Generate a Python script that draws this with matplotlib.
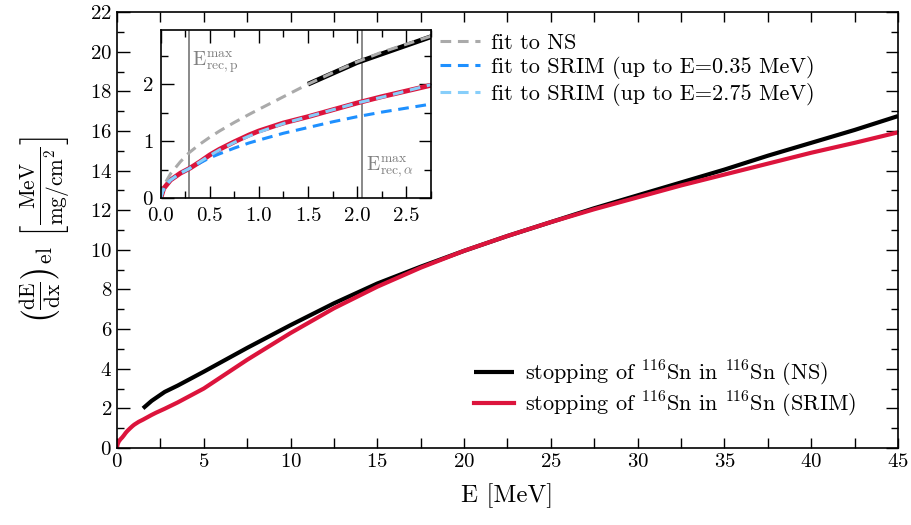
import matplotlib
matplotlib.use("Agg")
import matplotlib.pyplot as plt
from matplotlib.ticker import MultipleLocator, FormatStrFormatter

plt.rcParams['font.family'] = 'serif'
plt.rcParams['font.serif'] = ['cmr10']
plt.rcParams['mathtext.fontset'] = 'cm'
plt.rcParams['axes.formatter.use_mathtext'] = True
plt.rcParams['axes.unicode_minus'] = False

# stopping of 116Sn in 116Sn, main panel
e_ns = [1.5, 2.0, 2.75, 3.5, 5, 7.5, 10, 12.5, 15, 17.5, 20, 22.5, 25,
        27.5, 30, 32.5, 35, 37.5, 40, 42.5, 45]
s_ns = [2.00, 2.38, 2.83, 3.15, 3.85, 5.05, 6.20, 7.30, 8.30, 9.15, 9.95,
        10.70, 11.40, 12.10, 12.75, 13.40, 14.05, 14.75, 15.40, 16.05, 16.75]

e_srim = [0, 0.03, 0.1, 0.2, 0.3, 0.4, 0.5, 0.6, 0.75, 0.9, 1.0, 1.25, 1.5,
          1.75, 2.0, 2.25, 2.5, 2.75, 3.5, 5, 7.5, 10, 12.5, 15, 17.5, 20,
          22.5, 25, 27.5, 30, 32.5, 35, 37.5, 40, 42.5, 45]
s_srim = [0, 0.17, 0.32, 0.44, 0.53, 0.64, 0.76, 0.86, 0.99, 1.11, 1.18,
          1.32, 1.43, 1.55, 1.67, 1.78, 1.88, 1.98, 2.30, 3.00, 4.45, 5.80,
          7.05, 8.14, 9.10, 9.95, 10.70, 11.40, 12.05, 12.65, 13.25, 13.80,
          14.35, 14.90, 15.40, 15.93]

# fits shown in the inset
e_fit = [0, 0.02, 0.05, 0.1, 0.2, 0.29, 0.4, 0.5, 0.6, 0.75, 0.9, 1.0, 1.25,
         1.5, 1.75, 2.0, 2.25, 2.5, 2.75]
fit_ns = [0, 0.15, 0.28, 0.43, 0.64, 0.80, 0.95, 1.07, 1.18, 1.33, 1.47,
          1.56, 1.78, 2.00, 2.20, 2.39, 2.56, 2.70, 2.84]
fit_srim_035 = [0, 0.12, 0.22, 0.32, 0.44, 0.52, 0.62, 0.71, 0.78, 0.88,
                0.97, 1.02, 1.14, 1.24, 1.34, 1.43, 1.51, 1.58, 1.65]
fit_srim_275 = [0, 0.12, 0.22, 0.32, 0.44, 0.52, 0.64, 0.75, 0.85, 0.98,
                1.09, 1.16, 1.31, 1.43, 1.55, 1.67, 1.77, 1.88, 1.99]

e_rec_p = 0.29
e_rec_alpha = 2.05

red = '#dc143c'
blue = '#1e90ff'
lblue = '#87cefa'
grey = '#aaaaaa'
dash = (0, (3.5, 2.2))

fig = plt.figure(figsize=(9.11, 5.25), dpi=100)
ax = fig.add_axes([0.1284, 0.1467, 0.8573, 0.8303])

ax.plot(e_ns, s_ns, color='black', lw=3.0, solid_capstyle='butt',
        label=r'stopping of $^{116}$Sn in $^{116}$Sn (NS)')
ax.plot(e_srim, s_srim, color=red, lw=3.0,
        label=r'stopping of $^{116}$Sn in $^{116}$Sn (SRIM)')
ax.set_xlim(0, 45)
ax.set_ylim(0, 22)
ax.xaxis.set_major_locator(MultipleLocator(5))
ax.xaxis.set_minor_locator(MultipleLocator(2.5))
ax.yaxis.set_major_locator(MultipleLocator(2))
ax.yaxis.set_minor_locator(MultipleLocator(1))
ax.tick_params(which='both', direction='in', top=True, right=True,
               labelsize=15, width=1.0)
ax.tick_params(axis='y', which='major', length=9)
ax.tick_params(axis='y', which='minor', length=5)
ax.tick_params(axis='x', which='both', length=7)
for sp in ax.spines.values():
    sp.set_linewidth(1.2)
ax.set_xlabel('E [MeV]', fontsize=18, labelpad=9)
ax.set_ylabel(r'$\left(\frac{\mathrm{dE}}{\mathrm{dx}}\right)_{\mathrm{el}}'
              r'\ \left[\frac{\mathrm{MeV}}{\mathrm{mg/cm^2}}\right]$',
              fontsize=22, labelpad=12)

# inset
ins = fig.add_axes([0.1764, 0.6223, 0.2964, 0.3206])
ins.axvline(e_rec_p, color='#808080', lw=1.3)
ins.axvline(e_rec_alpha, color='#808080', lw=1.3)
ins.plot(e_ns, s_ns, color='black', lw=3.5, solid_capstyle='butt')
ins.plot(e_srim, s_srim, color=red, lw=3.5)
l1, = ins.plot(e_fit, fit_ns, color=grey, lw=2.2, ls=dash,
               label='fit to NS')
l2, = ins.plot(e_fit, fit_srim_035, color=blue, lw=2.2, ls=dash,
               label='fit to SRIM (up to E=0.35 MeV)')
l3, = ins.plot(e_fit, fit_srim_275, color=lblue, lw=2.2, ls=dash,
               label='fit to SRIM (up to E=2.75 MeV)')
ins.set_xlim(0, 2.75)
ins.set_ylim(0, 2.95)
ins.xaxis.set_major_locator(MultipleLocator(0.5))
ins.xaxis.set_minor_locator(MultipleLocator(0.25))
ins.yaxis.set_major_locator(MultipleLocator(1))
ins.yaxis.set_minor_locator(MultipleLocator(0.5))
ins.xaxis.set_major_formatter(FormatStrFormatter('%.1f'))
ins.tick_params(which='both', direction='in', top=True, right=True,
                labelsize=15, width=1.0)
ins.tick_params(axis='x', pad=6)
ins.tick_params(axis='y', pad=5)
ins.tick_params(which='major', length=9)
ins.tick_params(which='minor', length=5)
for sp in ins.spines.values():
    sp.set_linewidth(1.2)
ins.text(0.32, 2.38, r'$\mathrm{E}^{\mathrm{max}}_{\mathrm{rec,p}}$',
         color='#808080', fontsize=14, va='center', ha='left')
ins.text(2.09, 0.55, r'$\mathrm{E}^{\mathrm{max}}_{\mathrm{rec},\alpha}$',
         color='#808080', fontsize=14, va='center', ha='left')

leg_fit = ax.legend(handles=[l1, l2, l3], loc='upper left',
                    bbox_to_anchor=(0.413, 0.952), frameon=False,
                    fontsize=16, handlelength=1.8, handletextpad=0.5,
                    labelspacing=0.16, borderpad=0, borderaxespad=0)
ax.add_artist(leg_fit)
ax.legend(loc='upper left', bbox_to_anchor=(0.457, 0.205), frameon=False,
          fontsize=16, handlelength=1.8, handletextpad=0.5,
          labelspacing=0.05, borderpad=0, borderaxespad=0)

fig.savefig('out.png', dpi=100)
